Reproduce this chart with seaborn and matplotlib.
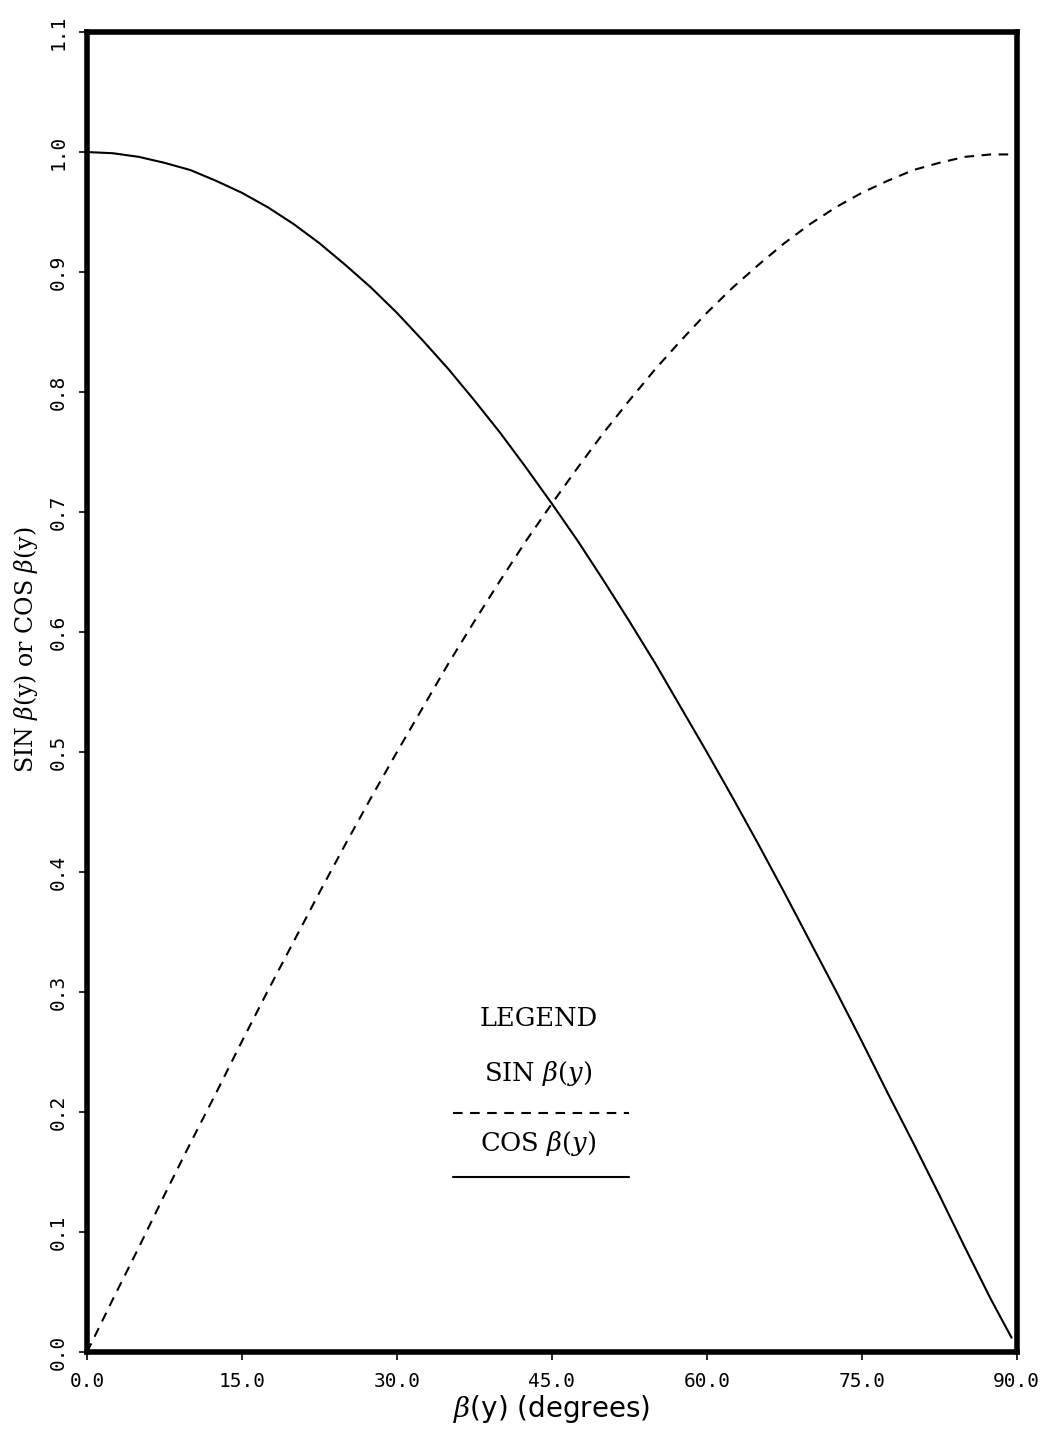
import numpy as np
import pandas as pd
import seaborn as sns
import matplotlib.pyplot as plt

# values (beta in degrees)
beta = [0, 2.5, 5, 7.5, 10, 12.5, 15, 17.5, 20, 22.5, 25, 27.5, 30, 32.5, 35, 37.5,
        40, 42.5, 45, 47.5, 50, 52.5, 55, 57.5, 60, 62.5, 65, 67.5, 70, 72.5, 75,
        77.5, 80, 82.5, 85, 87.5, 89.5]
sin_vals = [0.000, 0.044, 0.087, 0.131, 0.174, 0.216, 0.259, 0.301, 0.342, 0.383,
            0.423, 0.462, 0.500, 0.537, 0.574, 0.609, 0.643, 0.676, 0.707, 0.737,
            0.766, 0.793, 0.819, 0.843, 0.866, 0.887, 0.906, 0.924, 0.940, 0.954,
            0.966, 0.976, 0.985, 0.991, 0.996, 0.998, 0.998]
cos_vals = [1.000, 0.999, 0.996, 0.991, 0.985, 0.976, 0.966, 0.954, 0.940, 0.924,
            0.906, 0.887, 0.866, 0.843, 0.819, 0.793, 0.766, 0.737, 0.707, 0.676,
            0.643, 0.609, 0.574, 0.537, 0.500, 0.462, 0.423, 0.383, 0.342, 0.301,
            0.259, 0.216, 0.174, 0.131, 0.087, 0.044, 0.012]
x_ticks = [0, 15, 30, 45, 60, 75, 90]
y_ticks = [0.0, 0.1, 0.2, 0.3, 0.4, 0.5, 0.6, 0.7, 0.8, 0.9, 1.0, 1.1]

df = pd.DataFrame({"beta": beta, "sin": sin_vals, "cos": cos_vals})

sns.set_style("ticks")
plt.rcParams["font.family"] = ["DejaVu Serif"]
plt.rcParams["mathtext.fontset"] = "dejavuserif"

dash = (0, (4.6, 3.6))

fig = plt.figure(figsize=(10.46, 14.3), dpi=100)
ax = fig.add_axes([0.0832, 0.0545, 0.8888, 0.9231])

sns.lineplot(data=df, x="beta", y="sin", ax=ax, color="black", lw=1.5, linestyle=dash)
sns.lineplot(data=df, x="beta", y="cos", ax=ax, color="black", lw=1.5)

ax.set_xlim(0, 90)
ax.set_ylim(0, 1.1)
ax.set_xticks(x_ticks)
ax.set_xticklabels([f"{v:.1f}" for v in x_ticks], fontsize=14, family="DejaVu Sans Mono")
ax.set_yticks(y_ticks)
ax.set_yticklabels([f"{v:.1f}" for v in y_ticks], fontsize=14, rotation=90,
                   va="center", family="DejaVu Sans Mono")
ax.tick_params(length=6, width=1.2, direction="out", colors="black", pad=8)
for s in ax.spines.values():
    s.set_linewidth(4)
    s.set_color("black")
    s.set_visible(True)

ax.set_xlabel(r"$\beta$(y) (degrees)", fontsize=20, labelpad=2,
              family="DejaVu Sans", color="black")
ax.set_ylabel(r"SIN $\beta$(y) or COS $\beta$(y)", fontsize=17, color="black")
ax.yaxis.set_label_coords(-0.0505, 0.532)

# legend drawn as text block like the original
ax.text(43.7, 0.278, "LEGEND", ha="center", va="center", fontsize=18.5, color="black")
ax.text(43.7, 0.232, r"SIN $\beta(y)$", ha="center", va="center", fontsize=18.5, color="black")
ax.plot([35.4, 52.5], [0.199, 0.199], color="black", lw=1.5, linestyle=dash)
ax.text(43.7, 0.174, r"COS $\beta(y)$", ha="center", va="center", fontsize=18.5, color="black")
ax.plot([35.4, 52.5], [0.146, 0.146], color="black", lw=1.5)

fig.savefig("out.png", dpi=100)
plt.close(fig)
